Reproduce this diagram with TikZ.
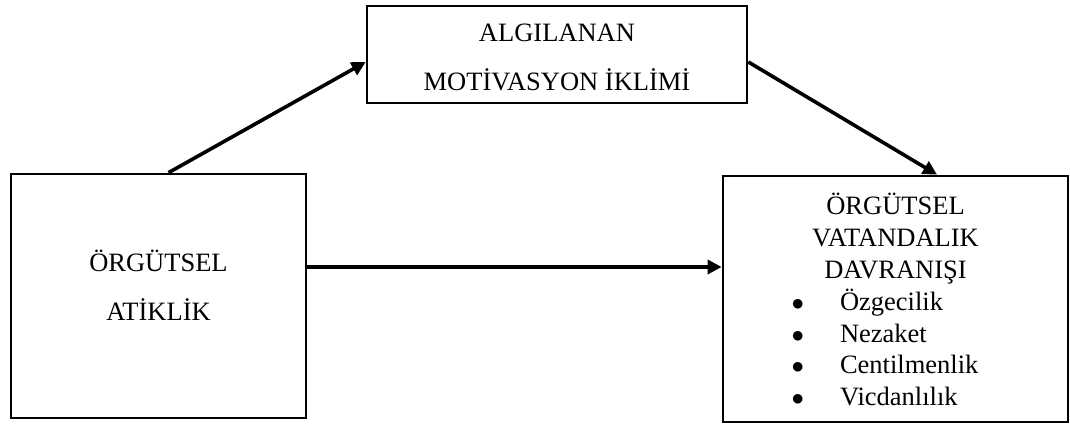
\documentclass[tikz,border=0pt]{standalone}
\usepackage{fontspec}
\setmainfont{Liberation Serif}
\usetikzlibrary{arrows.meta,calc}
\tikzset{box/.style={draw,line width=2.7pt,inner sep=0pt,align=center,
  font=\fontsize{26.5}{31.8}\selectfont},
ray/.style={-{Triangle[length=14pt,width=14pt]},line width=3.6pt},
wide/.style={font=\fontsize{26.5}{48.5}\selectfont}}
\begin{document}
\begin{tikzpicture}[x=1pt,y=-1pt]
\useasboundingbox (0,0) rectangle (1070,424);
\node[box,wide,minimum width=380pt,minimum height=97pt] (iklim) at (557,54.5)
  {\rule{0pt}{23pt}ALGILANAN\\MOTİVASYON İKLİMİ};
\node[box,wide,minimum width=295pt,minimum height=244pt] (atik) at (158.5,296)
  {ÖRGÜTSEL\\ATİKLİK\rule[-21pt]{0pt}{21pt}};
\node[box,minimum width=345pt,minimum height=246pt] (ovd) at (895.5,299)
  {\rule{0pt}{32pt}ÖRGÜTSEL\\VATANDALIK\\DAVRANIŞI\\
   \begin{tabular}[t]{@{}c@{\hspace{36pt}}l@{}}
   $\bullet$ & Özgecilik\\
   $\bullet$ & Nezaket\\
   $\bullet$ & Centilmenlik\\
   $\bullet$ & Vicdanlılık
   \end{tabular}\hspace*{21pt}};
% yollar
\draw[ray] ($(atik.north)+(10,0)$) -- ($(iklim.west)+(0,7.5)$);
\draw[ray] ($(iklim.east)+(0,7.5)$) -- ($(ovd.north)+(41.5,0)$);
\draw[ray] ($(atik.east)+(0,-29)$) -- ($(ovd.west)+(0,-32)$);
\end{tikzpicture}
\end{document}
